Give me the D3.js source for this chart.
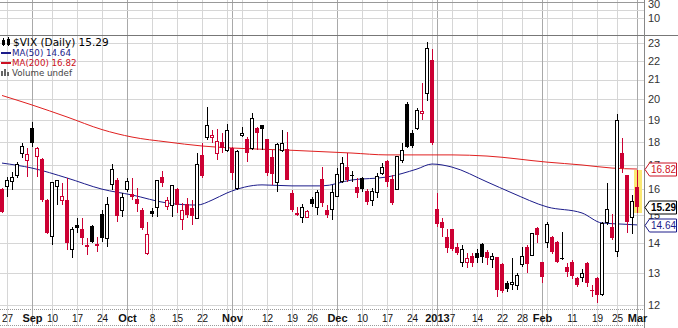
<!DOCTYPE html>
<html>
<head>
<meta charset="utf-8">
<script src="https://cdn.jsdelivr.net/npm/d3@7"></script>
<style>
  body { margin: 0; background: #fff; }
  svg { display: block; }
</style>
</head>
<body>
<div id="chart"></div>
<script>
// Trading days shown on the chart (categories)
const dates = [
  "2012-08-24","2012-08-27","2012-08-28","2012-08-29","2012-08-30","2012-08-31",
  "2012-09-04","2012-09-05","2012-09-06","2012-09-07","2012-09-10","2012-09-11","2012-09-12","2012-09-13","2012-09-14",
  "2012-09-17","2012-09-18","2012-09-19","2012-09-20","2012-09-21","2012-09-24","2012-09-25","2012-09-26","2012-09-27","2012-09-28",
  "2012-10-01","2012-10-02","2012-10-03","2012-10-04","2012-10-05","2012-10-08","2012-10-09","2012-10-10","2012-10-11","2012-10-12",
  "2012-10-15","2012-10-16","2012-10-17","2012-10-18","2012-10-19","2012-10-22","2012-10-23","2012-10-24","2012-10-25","2012-10-26","2012-10-31",
  "2012-11-01","2012-11-02","2012-11-05","2012-11-06","2012-11-07","2012-11-08","2012-11-09","2012-11-12","2012-11-13","2012-11-14",
  "2012-11-15","2012-11-16","2012-11-19","2012-11-20","2012-11-21","2012-11-23","2012-11-26","2012-11-27","2012-11-28","2012-11-29","2012-11-30",
  "2012-12-03","2012-12-04","2012-12-05","2012-12-06","2012-12-07","2012-12-10","2012-12-11","2012-12-12","2012-12-13","2012-12-14",
  "2012-12-17","2012-12-18","2012-12-19","2012-12-20","2012-12-21","2012-12-24","2012-12-26","2012-12-27","2012-12-28","2012-12-31",
  "2013-01-02","2013-01-03","2013-01-04","2013-01-07","2013-01-08","2013-01-09","2013-01-10","2013-01-11","2013-01-14","2013-01-15",
  "2013-01-16","2013-01-17","2013-01-18","2013-01-22","2013-01-23","2013-01-24","2013-01-25","2013-01-28","2013-01-29","2013-01-30","2013-01-31",
  "2013-02-01","2013-02-04","2013-02-05","2013-02-06","2013-02-07","2013-02-08","2013-02-11","2013-02-12","2013-02-13","2013-02-14",
  "2013-02-15","2013-02-19","2013-02-20","2013-02-21","2013-02-22","2013-02-25","2013-02-26","2013-02-27","2013-02-28","2013-03-01"
];

// Daily OHLC of $VIX
const open = [
  16.00,16.09,16.29,16.57,17.46,17.20,
  18.62,17.33,17.24,15.57,14.21,16.09,15.54,15.57,13.76,
  14.64,14.49,13.93,14.60,13.96,15.04,14.17,16.17,16.37,15.19,
  16.00,15.81,15.61,15.19,13.65,15.15,15.27,16.49,15.31,15.38,
  16.00,14.82,15.42,15.27,14.89,17.42,18.17,18.17,17.50,17.98,17.63,
  17.72,16.04,18.26,18.12,17.68,18.62,18.76,18.12,17.33,16.25,
  17.63,17.68,15.85,15.08,14.93,14.93,15.61,15.27,16.41,15.19,15.23,
  15.73,16.29,16.90,16.57,16.09,16.45,15.92,15.54,15.85,16.65,
  17.16,16.41,16.00,17.16,19.77,18.39,18.62,19.30,20.31,22.05,
  15.23,14.75,14.21,14.49,13.86,13.32,13.32,13.55,13.65,13.96,
  13.69,13.45,13.52,13.28,12.67,12.64,12.61,13.28,13.86,13.58,14.53,
  13.35,14.00,14.21,14.03,13.48,13.18,13.35,12.83,12.86,13.32,
  12.47,12.83,12.33,14.71,14.56,13.69,17.50,16.57,14.93,16.09
];
const high = [
  16.04,16.49,16.70,17.12,17.94,17.72,
  18.90,17.77,17.29,15.60,16.29,16.37,16.25,16.45,14.56,
  14.89,14.89,14.17,14.64,14.21,15.20,15.69,17.03,16.45,15.85,
  16.45,16.45,16.04,15.27,14.75,15.27,16.37,16.74,15.69,16.17,
  16.04,15.46,15.65,15.57,17.50,17.94,19.62,18.53,18.57,18.39,18.81,
  17.77,17.63,18.67,18.21,19.33,18.67,18.76,18.12,17.63,17.94,
  18.53,18.44,15.96,15.31,15.42,15.19,15.69,15.96,16.90,15.38,16.17,
  16.86,17.33,17.50,16.74,16.45,16.49,16.00,16.04,16.65,17.07,
  17.20,16.57,17.37,17.94,19.87,18.53,19.57,20.83,23.05,22.66,
  15.85,14.89,14.49,14.49,14.00,13.93,13.65,13.65,13.79,14.00,
  13.76,13.65,13.52,13.32,12.75,13.48,12.99,13.86,13.93,14.35,14.56,
  13.35,14.75,14.24,14.07,14.39,13.32,13.42,12.86,13.12,13.35,
  12.61,12.86,14.75,16.25,15.04,19.30,18.17,16.57,15.75,16.78
];
const low = [
  15.08,15.69,15.96,16.45,17.29,16.49,
  17.77,16.49,15.50,14.30,13.93,15.38,15.38,13.76,13.48,
  14.35,13.93,13.58,14.00,13.69,14.03,13.86,15.96,14.75,14.93,
  15.89,15.57,15.12,14.45,13.58,14.93,14.93,16.09,15.19,14.93,
  15.08,14.45,14.89,14.64,14.89,16.45,18.08,17.94,17.20,17.50,17.55,
  16.37,15.96,18.21,17.11,17.63,17.63,17.63,16.53,16.17,15.89,
  17.55,16.37,15.12,14.97,14.71,14.89,15.31,15.00,15.31,14.89,14.82,
  15.69,16.25,16.29,16.29,15.65,15.89,15.38,15.35,15.65,16.57,
  16.09,15.38,15.96,17.07,17.72,17.72,18.53,19.00,19.90,17.85,
  14.56,14.21,13.65,13.72,13.58,13.19,13.15,13.19,13.32,13.32,
  13.25,13.15,12.24,12.36,12.40,12.45,12.45,13.19,12.99,13.55,14.00,
  12.67,13.82,13.62,13.32,13.42,12.87,12.80,12.55,12.70,12.55,
  12.24,12.06,12.27,14.64,14.10,13.52,16.65,14.35,14.30,15.08
];
const close = [
  15.12,16.33,16.45,17.03,17.77,17.42,
  17.94,17.68,15.57,14.35,16.25,16.33,15.73,14.00,14.49,
  14.53,14.17,13.86,14.03,13.89,14.17,15.42,16.78,14.95,15.69,
  16.29,15.69,15.42,14.53,14.31,15.04,16.33,16.25,15.57,16.13,
  15.38,15.19,15.00,14.97,17.03,16.53,18.76,18.30,18.03,17.72,18.53,
  16.65,17.55,18.39,17.50,19.05,18.39,18.58,16.65,16.61,17.89,
  17.94,16.37,15.19,15.00,15.27,15.12,15.42,15.85,15.46,15.00,15.85,
  16.61,17.07,16.37,16.52,15.85,16.00,15.50,15.89,16.53,16.90,
  16.29,15.46,17.33,17.59,17.77,17.81,19.47,19.40,22.66,17.94,
  14.67,14.53,13.82,13.79,13.65,13.79,13.48,13.32,13.48,13.52,
  13.50,13.55,12.47,12.43,12.49,12.70,12.90,13.55,13.28,14.33,14.29,
  12.87,14.64,13.69,13.35,13.45,13.02,12.90,12.61,12.99,12.67,
  12.45,12.31,14.68,15.22,14.17,18.99,16.87,14.73,15.51,15.29
];
// close of the session before the first visible bar (sets the first bar's colour)
const priorClose = 15.70;

// Moving averages at sample days
const ma50Dates = ["2012-08-24","2012-09-04","2012-09-13","2012-09-24","2012-10-02","2012-10-11","2012-10-19","2012-10-24",
  "2012-10-31","2012-11-09","2012-11-19","2012-11-28","2012-12-06","2012-12-17","2012-12-26","2012-12-31","2013-01-07",
  "2013-01-16","2013-01-24","2013-02-04","2013-02-13","2013-02-20","2013-02-26","2013-03-01"];
const ma50Values = [17.07,16.86,16.45,16.00,15.77,15.46,15.38,15.57,15.85,16.17,16.13,16.13,16.37,16.49,16.82,17.03,16.90,
  16.29,15.85,15.31,15.08,14.71,14.67,14.64];
const ma200Dates = ["2012-08-24","2012-09-04","2012-09-13","2012-09-24","2012-10-02","2012-10-11","2012-10-22","2012-11-01",
  "2012-11-16","2012-12-06","2012-12-17","2012-12-27","2013-01-07","2013-01-16","2013-02-04","2013-02-13","2013-02-22","2013-03-01"];
const ma200Values = [20.19,19.72,19.14,18.55,18.21,17.99,17.81,17.72,17.63,17.50,17.42,17.42,17.42,17.37,17.11,16.99,16.86,16.82];

// Axis ticks
const yTicks = [12,13,14,15,16,17,18,19,20,21,22,23];
const tickDates = ["2012-08-27","2012-09-04","2012-09-10","2012-09-17","2012-09-24","2012-10-01","2012-10-08","2012-10-15",
  "2012-10-22","2012-11-01","2012-11-12","2012-11-19","2012-11-26","2012-12-03","2012-12-10","2012-12-17","2012-12-24",
  "2013-01-02","2013-01-07","2013-01-14","2013-01-22","2013-01-28","2013-02-01","2013-02-11","2013-02-19","2013-02-25","2013-03-01"];
const tickLabels = ["27","Sep","10","17","24","Oct","8","15","22","Nov","12","19","26","Dec","10","17","24",
  "2013","7","14","22","28","Feb","11","19","25","Mar"];

const RED = "#cc0033";

class VixChart {
  constructor(elementId, width, height) {
    this.elementId = elementId;
    this.width = width;
    this.height = height;
    this.plot = { left: 0, right: 644, top: 35, bottom: 309 };
  }

  init() {
    this.svg = d3.select(`#${this.elementId}`).append("svg")
      .attr("width", this.width)
      .attr("height", this.height)
      .style("font-family", "'Liberation Sans', Arial, sans-serif");

    // 5px per trading day, last bar just left of the price axis
    this.x = d3.scalePoint().domain(dates).range([-0.5, 639.5]).padding(0.5);
    this.y = d3.scaleLog().domain([12, 23]).range([305, 43]);

    this.bars = dates.map((d, i) => ({
      date: d, o: open[i], h: high[i], l: low[i], c: close[i],
      prev: i ? close[i - 1] : priorClose
    }));

    this.drawGrid();
    this.drawAverages();
    this.drawCandles();
    this.drawAxes();
    this.drawLegend();
    this.drawCallouts();
  }

  drawGrid() {
    const g = this.svg.append("g").attr("shape-rendering", "crispEdges");
    const parse = d3.timeParse("%Y-%m-%d");
    const weekStarts = [], monthStarts = [];
    dates.forEach((d, i) => {
      if (i === 0) return;
      const a = parse(dates[i - 1]), b = parse(d);
      if (+d3.timeMonday.floor(a) !== +d3.timeMonday.floor(b)) weekStarts.push(d);
      if (a.getMonth() !== b.getMonth()) monthStarts.push(d);
    });

    g.selectAll(".wk").data(weekStarts).enter().append("line")
      .attr("x1", d => Math.round(this.x(d)) + 0.5).attr("x2", d => Math.round(this.x(d)) + 0.5)
      .attr("y1", 0).attr("y2", 326).attr("stroke", "#d6d6d6");
    g.selectAll(".hz").data(yTicks).enter().append("line")
      .attr("x1", 0).attr("x2", this.plot.right)
      .attr("y1", d => Math.round(this.y(d)) + 0.5).attr("y2", d => Math.round(this.y(d)) + 0.5)
      .attr("stroke", "#d6d6d6");
    g.selectAll(".mo").data(monthStarts).enter().append("line")
      .attr("x1", d => Math.round(this.x(d)) + 0.5).attr("x2", d => Math.round(this.x(d)) + 0.5)
      .attr("y1", 0).attr("y2", 326).attr("stroke", "#a9a9a9");

    // upper indicator panel (cut off) and panel borders
    [10.5, 18.5].forEach(y => g.append("line").attr("x1", 0).attr("x2", this.plot.right)
      .attr("y1", y).attr("y2", y).attr("stroke", "#d6d6d6"));
    g.append("line").attr("x1", 0).attr("x2", this.plot.right).attr("y1", 2.5).attr("y2", 2.5).attr("stroke", "#999");
    g.append("line").attr("x1", 0).attr("x2", this.width).attr("y1", 35.5).attr("y2", 35.5).attr("stroke", "#777");
    g.append("line").attr("x1", 0).attr("x2", this.plot.right).attr("y1", 309.5).attr("y2", 309.5)
      .attr("stroke", "#999").attr("stroke-dasharray", "1,1");
    g.append("line").attr("x1", 0).attr("x2", this.plot.right).attr("y1", 325.5).attr("y2", 325.5)
      .attr("stroke", "#999").attr("stroke-dasharray", "1,1");
    g.append("line").attr("x1", this.plot.right + 0.5).attr("x2", this.plot.right + 0.5)
      .attr("y1", 0).attr("y2", this.height).attr("stroke", "#888");
  }

  drawAverages() {
    const line = d3.line().x(d => this.x(d[0])).y(d => this.y(d[1])).curve(d3.curveMonotoneX);
    this.svg.append("path").datum(d3.zip(ma200Dates, ma200Values))
      .attr("d", line).attr("fill", "none").attr("stroke", "#e02020").attr("stroke-width", 1);
    this.svg.append("path").datum(d3.zip(ma50Dates, ma50Values))
      .attr("d", line).attr("fill", "none").attr("stroke", "#1c1c8a").attr("stroke-width", 1);
  }

  drawCandles() {
    const last = this.bars[this.bars.length - 1];
    // yellow marker behind the latest bar
    this.svg.append("rect")
      .attr("x", Math.round(this.x(last.date)) - 3).attr("width", 8)
      .attr("y", this.y(last.h)).attr("height", this.y(last.l) - this.y(last.h))
      .attr("fill", "#fbe873");

    const g = this.svg.append("g").attr("shape-rendering", "crispEdges");
    const c = g.selectAll("g").data(this.bars).enter().append("g");
    const col = d => d.c >= d.prev ? "#000" : RED;
    c.append("line")
      .attr("x1", d => Math.round(this.x(d.date)) + 0.5).attr("x2", d => Math.round(this.x(d.date)) + 0.5)
      .attr("y1", d => this.y(d.h)).attr("y2", d => this.y(d.l))
      .attr("stroke", col);
    c.append("rect")
      .attr("x", d => Math.round(this.x(d.date)) - (d.c > d.o ? 1.5 : 2))
      .attr("width", d => d.c > d.o ? 3 : 4)
      .attr("y", d => this.y(Math.max(d.o, d.c)))
      .attr("height", d => Math.max(1, this.y(Math.min(d.o, d.c)) - this.y(Math.max(d.o, d.c))))
      .attr("fill", d => d.c > d.o ? "#fff" : col(d))
      .attr("stroke", d => d.c > d.o ? col(d) : "none");
  }

  drawAxes() {
    const ax = this.svg.append("g").attr("font-size", 11).attr("fill", "#333");
    ax.selectAll(".yl").data(yTicks).enter().append("text")
      .attr("x", 648).attr("y", d => this.y(d)).attr("dy", "0.35em").text(d => d);
    ax.append("text").attr("x", 648).attr("y", 4).attr("dy", "0.35em").text("30");
    ax.append("text").attr("x", 648).attr("y", 18).attr("dy", "0.35em").text("10");

    const xl = this.svg.append("g").attr("fill", "#111");
    xl.selectAll("text").data(d3.zip(tickDates, tickLabels)).enter().append("text")
      .attr("x", d => this.x(d[0]) + 0.5).attr("y", 322)
      .attr("text-anchor", "middle")
      .attr("font-size", d => /^\d{1,2}$/.test(d[1]) ? 10 : 11)
      .attr("font-weight", d => /^\d{1,2}$/.test(d[1]) ? "normal" : "bold")
      .text(d => d[1]);
  }

  drawLegend() {
    const g = this.svg.append("g").style("font-family", "'DejaVu Sans', Verdana, sans-serif");
    // candle icon
    g.append("rect").attr("x", 2).attr("y", 40).attr("width", 3).attr("height", 5).attr("fill", "#000");
    g.append("rect").attr("x", 7).attr("y", 39).attr("width", 3).attr("height", 6).attr("fill", "#000");
    g.append("line").attr("x1", 3.5).attr("x2", 3.5).attr("y1", 38).attr("y2", 46).attr("stroke", "#000");
    g.append("line").attr("x1", 8.5).attr("x2", 8.5).attr("y1", 37).attr("y2", 46).attr("stroke", "#000");
    g.append("text").attr("x", 13).attr("y", 46).attr("font-size", 10.5).attr("fill", "#000")
      .text(`$VIX (Daily) ${d3.format(".2f")(close[close.length - 1])}`);

    const rows = [
      { y: 56, color: "#1c1c8a", text: `MA(50) ${d3.format(".2f")(ma50Values[ma50Values.length - 1])}` },
      { y: 66, color: "#cc1122", text: `MA(200) ${d3.format(".2f")(ma200Values[ma200Values.length - 1])}` }
    ];
    rows.forEach(r => {
      g.append("rect").attr("x", 1).attr("y", r.y - 4).attr("width", 10).attr("height", 2).attr("fill", r.color);
      g.append("text").attr("x", 12).attr("y", r.y).attr("font-size", 8.7).attr("fill", r.color).text(r.text);
    });
    [[1, 71], [4, 69], [7, 72]].forEach(([bx, by]) =>
      g.append("rect").attr("x", bx).attr("y", by).attr("width", 2).attr("height", 76 - by).attr("fill", "#666"));
    g.append("text").attr("x", 12).attr("y", 76).attr("font-size", 8.7).attr("fill", "#444").text("Volume undef");
  }

  drawCallouts() {
    const items = [
      { v: ma200Values[ma200Values.length - 1], stroke: "#cc1122", fill: "#cc1122", bold: false },
      { v: close[close.length - 1], stroke: "#000", fill: "#000", bold: true },
      { v: ma50Values[ma50Values.length - 1], stroke: "#1c1c8a", fill: "#1c1c8a", bold: false }
    ];
    items.forEach(it => {
      const cy = Math.round(this.y(it.v)) + 0.5;
      const x0 = this.plot.right + 1, x1 = 649.5, x2 = 676.5, h = 6.5;
      this.svg.append("path")
        .attr("d", `M${x0},${cy}L${x1},${cy - h}L${x2},${cy - h}L${x2},${cy + h}L${x1},${cy + h}Z`)
        .attr("fill", "#fff").attr("stroke", it.stroke);
      this.svg.append("text").attr("x", 651).attr("y", cy).attr("dy", "0.36em")
        .attr("font-size", 10).attr("font-weight", it.bold ? "bold" : "normal")
        .attr("fill", it.fill).text(d3.format(".2f")(it.v));
    });
  }
}

const chart = new VixChart("chart", 678, 328);
chart.init();
</script>
</body>
</html>
